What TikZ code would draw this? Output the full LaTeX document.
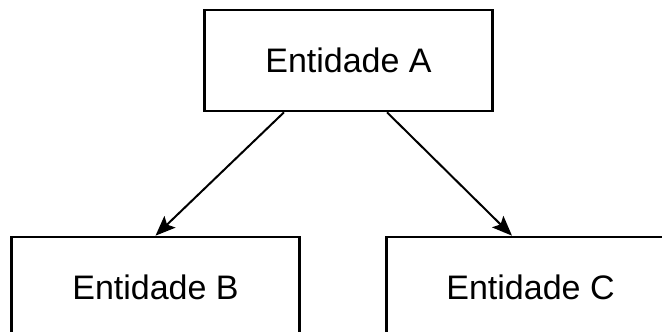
\documentclass[tikz,border=0pt]{standalone}
\usepackage{fontspec}
\setmainfont{Liberation Sans}
\usetikzlibrary{arrows.meta}
\tikzset{
entity/.style={draw, line width=2.6pt, fill=white, minimum width=288pt, minimum height=101pt, inner sep=0pt, font=\fontsize{34}{40}\selectfont}, % one box per entity
link/.style={->, line width=2pt}, % arrow between entities
}
\begin{document}
\begin{tikzpicture}[x=1pt, y=1pt, >={Stealth[length=20pt, width=16pt, inset=4pt]}]
\useasboundingbox (0,0) rectangle (662,332);
\node[entity] (a) at (348.5,271.5) {Entidade A};
\node[entity] (b) at (155.5,44.5) {Entidade B};
\node[entity] (c) at (530.5,44.5) {Entidade C};

\draw[link] ([xshift=-64.5pt]a.south) -- (b.north);
\draw[link] ([xshift=38.5pt]a.south) -- ([xshift=-18.5pt]c.north);
\end{tikzpicture}
\end{document}
